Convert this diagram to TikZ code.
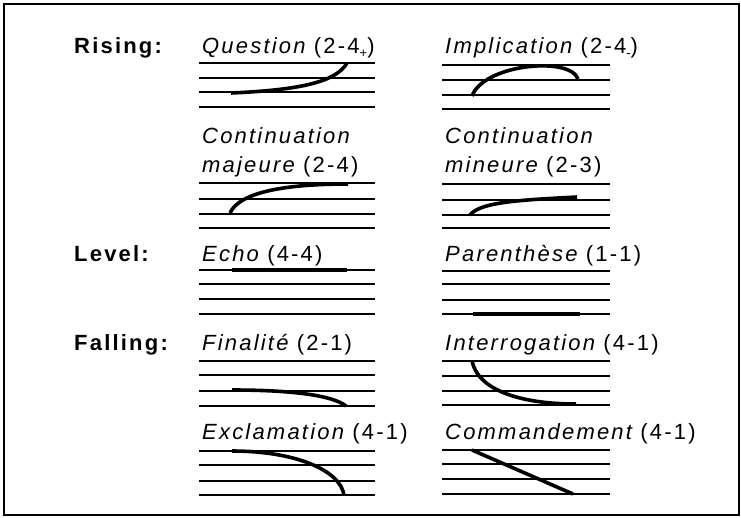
\documentclass[tikz,border=0pt]{standalone}
\usepackage{fontspec}
\setmainfont{Liberation Sans}
\newfontfamily\labfont[LetterSpace=10]{Liberation Sans}
\newcommand{\subsign}[1]{\raisebox{-0.35ex}{\fontsize{13}{13}\selectfont #1}}
\tikzset{
  lab/.style={anchor=base west, inner sep=0pt, font=\labfont\fontsize{22}{26}\selectfont},
  staffline/.style={line width=1.6pt},
  contour/.style={line width=3.6pt},
}
\begin{document}
\begin{tikzpicture}[x=1pt,y=-1pt]
\useasboundingbox (0,0) rectangle (741,517);
\draw[line width=1.4pt] (4,4) rectangle (739,515);

% row labels
\node[lab] (rising) at (74,53) {\bfseries Rising:};
\node[lab] (level) at (74,261) {\bfseries Level:};
\node[lab] (falling) at (74,350) {\bfseries Falling:};

% titles
\node[lab] (tq) at (202,53) {\itshape Question\upshape{} (2-4\subsign{+})};
\node[lab] (ti) at (445,53) {\itshape Implication\upshape{} (2-4\subsign{-})};
\node[lab] (tcm1) at (202,143) {\itshape Continuation};
\node[lab] (tcm2) at (202,172) {\itshape majeure\upshape{} (2-4)};
\node[lab] (tcn1) at (445,143) {\itshape Continuation};
\node[lab] (tcn2) at (445,172) {\itshape mineure\upshape{} (2-3)};
\node[lab] (te) at (202,261) {\itshape Echo\upshape{} (4-4)};
\node[lab] (tp) at (445,261) {\itshape Parenthèse\upshape{} (1-1)};
\node[lab] (tf) at (202,350) {\itshape Finalité\upshape{} (2-1)};
\node[lab] (tr) at (445,350) {\itshape Interrogation\upshape{} (4-1)};
\node[lab] (tx) at (202,439) {\itshape Exclamation\upshape{} (4-1)};
\node[lab] (tc) at (445,439) {\itshape Commandement\upshape{} (4-1)};

% staves left
\foreach \y in {63,78,92,107, 183,199,214,228, 270,284,299,314, 361,375,391,406, 451,465,481,495}
  \draw[staffline] (199,\y) -- (375,\y);
% staves right
\foreach \y in {65,80,95,109, 184,200,215,228, 271,284,300,314, 361,376,391,405, 450,464,479,494}
  \draw[staffline] (442,\y) -- (610,\y);

% contours
\draw[contour] (231,93) .. controls (300,90) and (336,82) .. (347,63);
\draw[contour] (472,96) .. controls (484,64) and (570,56) .. (578,79);
\draw[contour] (230,213) .. controls (240,191) and (290,184) .. (348,184);
\draw[contour] (470,215) .. controls (480,202) and (520,200) .. (577,197);
\draw[contour] (232,270) -- (347,270);
\draw[contour] (473,314) -- (580,314);
\draw[contour] (232,390) .. controls (290,390) and (332,395) .. (346,406);
\draw[contour] (472,361) .. controls (478,390) and (520,404) .. (576,404);
\draw[contour] (232,451) .. controls (295,451) and (340,470) .. (344,495);
\draw[contour] (472,450) -- (573,494);
\end{tikzpicture}
\end{document}
